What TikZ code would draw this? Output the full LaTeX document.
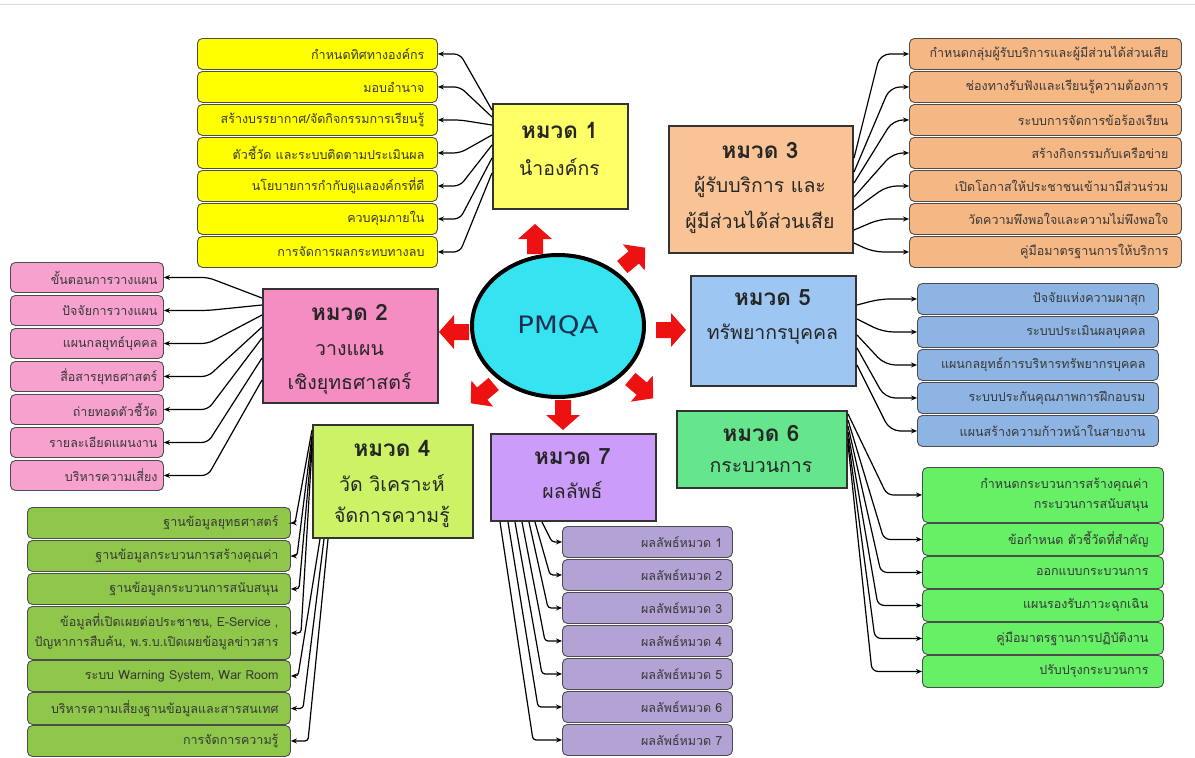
\documentclass[tikz,border=0pt]{standalone}
\usepackage{fontspec}
\setmainfont[Script=Thai]{Loma}
\newfontfamily\pmqafont[FakeStretch=1.15]{DejaVu Sans}
\usetikzlibrary{arrows.meta,shapes.geometric}
\definecolor{yH}{HTML}{FFFF66}
\definecolor{yI}{HTML}{FFFF00}
\definecolor{oH}{HTML}{F9C396}
\definecolor{oI}{HTML}{F5B784}
\definecolor{kH}{HTML}{F58CC2}
\definecolor{kI}{HTML}{F7A1CF}
\definecolor{bH}{HTML}{9EC6F3}
\definecolor{bI}{HTML}{8DB4E2}
\definecolor{gH}{HTML}{66E68C}
\definecolor{gI}{HTML}{66F066}
\definecolor{lH}{HTML}{CCF266}
\definecolor{lI}{HTML}{8FC74A}
\definecolor{vH}{HTML}{CC9CFA}
\definecolor{vI}{HTML}{B2A3D4}
\definecolor{cy}{HTML}{35E4F0}
\definecolor{arrred}{HTML}{EE1111}
% name, fill, x, y, total width, height, margin, text
\newcommand\itm[8]{\node[item, fill=#2, inner xsep=#7pt, minimum height=#6pt] (#1) at (#3,#4)
  {\makebox[\dimexpr #5pt - #7pt - #7pt\relax][r]{#8}};}
\newcommand\twol[2]{\begin{tabular}{@{}r@{}}#1\\#2\end{tabular}}
\begin{document}
\begin{tikzpicture}[x=1pt,y=-1pt,
 item/.style={draw=black!70, line width=0.9pt, rounded corners=5pt, inner ysep=0pt,
   anchor=north west, text=black!78, font=\fontsize{12.5}{20}\selectfont},
 hbox/.style={draw=black!80, line width=2pt, anchor=north west, inner sep=0pt},
 hA/.style={font=\fontsize{22.5}{26}\selectfont\bfseries, text=black!85},
 hB/.style={font=\fontsize{19.5}{23}\selectfont, text=black!85},
 conn/.style={line width=1.2pt, -{Stealth[length=6pt,width=5pt]}, rounded corners=6pt},
 blockarrow/.pic={\fill[arrred] (-14,-8) -- (1,-8) -- (1,-17) -- (16,0) -- (1,17) -- (1,8) -- (-14,8) -- cycle;}
]
\useasboundingbox (0,0) rectangle (1195,758);
\draw[black!15, line width=1pt] (0,4) -- (1195,4);

% ---------- group 1
\itm{a1}{yI}{197}{38}{240}{31}{13}{กำหนดทิศทางองค์กร}
\itm{a2}{yI}{197}{71}{240}{31}{13}{มอบอำนาจ}
\itm{a3}{yI}{197}{104}{240}{31}{13}{สร้างบรรยากาศ/จัดกิจกรรมการเรียนรู้}
\itm{a4}{yI}{197}{137}{240}{31}{13}{ตัวชี้วัด และระบบติดตามประเมินผล}
\itm{a5}{yI}{197}{170}{240}{31}{13}{นโยบายการกำกับดูแลองค์กรที่ดี}
\itm{a6}{yI}{197}{203}{240}{31}{13}{ควบคุมภายใน}
\itm{a7}{yI}{197}{236}{240}{31}{13}{การจัดการผลกระทบทางลบ}
\node[hbox, fill=yH, minimum width=135pt, minimum height=105pt] (h1) at (492,103) {};
\node[hA] (h1a) at (559.5,130) {หมวด 1};
\node[hB] (h1b) at (559.5,167) {นำองค์กร};
\foreach \k/\sy in {1/110,2/117,3/125,4/135,5/145,6/158,7/173}
  \draw[conn] (h1.west |- 0,\sy) -- (a\k.east -| 460,0) -- (a\k.east);

% ---------- group 3
\itm{c1}{oI}{909}{38}{272}{31}{13}{กำหนดกลุ่มผู้รับบริการและผู้มีส่วนได้ส่วนเสีย}
\itm{c2}{oI}{909}{71}{272}{31}{13}{ช่องทางรับฟังและเรียนรู้ความต้องการ}
\itm{c3}{oI}{909}{104}{272}{31}{13}{ระบบการจัดการข้อร้องเรียน}
\itm{c4}{oI}{909}{137}{272}{31}{13}{สร้างกิจกรรมกับเครือข่าย}
\itm{c5}{oI}{909}{170}{272}{31}{13}{เปิดโอกาสให้ประชาชนเข้ามามีส่วนร่วม}
\itm{c6}{oI}{909}{203}{272}{31}{13}{วัดความพึงพอใจและความไม่พึงพอใจ}
\itm{c7}{oI}{909}{236}{272}{31}{13}{คู่มือมาตรฐานการให้บริการ}
\node[hbox, fill=oH, minimum width=184pt, minimum height=127pt] (h3) at (668,125) {};
\node[hA] (h3a) at (760,150) {หมวด 3};
\node[hB] (h3b) at (760,187) {ผู้รับบริการ และ};
\node[hB] (h3c) at (760,222) {ผู้มีส่วนได้ส่วนเสีย};
\foreach \k/\sy/\bx in {1/158/880,2/172/890,3/183/893,4/197/893,5/210/887,6/230/880,7/243/873}
  \draw[conn, rounded corners=10pt] (h3.east |- 0,\sy) -- (c\k.west -| \bx,0) -- (c\k.west);

% ---------- group 2
\itm{b1}{kI}{10}{262}{153}{30}{6}{ขั้นตอนการวางแผน}
\itm{b2}{kI}{10}{295}{153}{30}{6}{ปัจจัยการวางแผน}
\itm{b3}{kI}{10}{328}{153}{30}{6}{แผนกลยุทธ์บุคคล}
\itm{b4}{kI}{10}{361}{153}{30}{6}{สื่อสารยุทธศาสตร์}
\itm{b5}{kI}{10}{394}{153}{30}{6}{ถ่ายทอดตัวชี้วัด}
\itm{b6}{kI}{10}{427}{153}{30}{6}{รายละเอียดแผนงาน}
\itm{b7}{kI}{10}{460}{153}{30}{6}{บริหารความเสี่ยง}
\node[hbox, fill=kH, minimum width=175pt, minimum height=114pt] (h2) at (262,288) {};
\node[hA] (h2a) at (349.5,312) {หมวด 2};
\node[hB] (h2b) at (349.5,350) {วางแผน};
\node[hB] (h2c) at (349.5,383) {เชิงยุทธศาสตร์};
\foreach \k/\sy in {1/298,2/305,3/315,4/327,5/338,6/358,7/380}
  \draw[conn] (h2.west |- 0,\sy) -- (b\k.east -| 208,0) -- (b\k.east);

% ---------- group 5
\itm{e1}{bI}{917}{283}{241}{31}{13}{ปัจจัยแห่งความผาสุก}
\itm{e2}{bI}{917}{316}{241}{31}{13}{ระบบประเมินผลบุคคล}
\itm{e3}{bI}{917}{349}{241}{31}{13}{แผนกลยุทธ์การบริหารทรัพยากรบุคคล}
\itm{e4}{bI}{917}{382}{241}{31}{13}{ระบบประกันคุณภาพการฝึกอบรม}
\itm{e5}{bI}{917}{415}{241}{31}{13}{แผนสร้างความก้าวหน้าในสายงาน}
\node[hbox, fill=bH, minimum width=165pt, minimum height=110pt] (h5) at (690,275) {};
\node[hA] (h5a) at (772.5,298) {หมวด 5};
\node[hB] (h5b) at (772.5,334) {ทรัพยากรบุคคล};
\foreach \k/\sy/\bx in {1/305/880,2/319/883,3/335/885,4/348/885,5/365/890}
  \draw[conn, rounded corners=10pt] (h5.east |- 0,\sy) -- (e\k.west -| \bx,0) -- (e\k.west);

% ---------- group 6
\itm{f1}{gI}{922}{467}{241}{55}{15}{\twol{กำหนดกระบวนการสร้างคุณค่า}{กระบวนการสนับสนุน}}
\itm{f2}{gI}{922}{523}{241}{32}{15}{ข้อกำหนด ตัวชี้วัดที่สำคัญ}
\itm{f3}{gI}{922}{556}{241}{32}{15}{ออกแบบกระบวนการ}
\itm{f4}{gI}{922}{589}{241}{32}{15}{แผนรองรับภาวะฉุกเฉิน}
\itm{f5}{gI}{922}{622}{241}{32}{15}{คู่มือมาตรฐานการปฏิบัติงาน}
\itm{f6}{gI}{922}{655}{241}{32}{15}{ปรับปรุงกระบวนการ}
\node[hbox, fill=gH, minimum width=170pt, minimum height=77pt] (h6) at (676,410) {};
\node[hA] (h6a) at (761,433) {หมวด 6};
\node[hB] (h6b) at (761,467) {กระบวนการ};
\foreach \k/\sy/\bx in {1/414/887,2/420/884,3/426/881,4/432/878,5/438/875,6/444/872}
  \draw[conn] (h6.east |- 0,\sy) -- (f\k.west -| \bx,0) -- (f\k.west);

% ---------- group 4
\itm{d1}{lI}{27}{507}{263}{31}{12}{ฐานข้อมูลยุทธศาสตร์}
\itm{d2}{lI}{27}{540}{263}{31}{12}{ฐานข้อมูลกระบวนการสร้างคุณค่า}
\itm{d3}{lI}{27}{573}{263}{31}{12}{ฐานข้อมูลกระบวนการสนับสนุน}
\itm{d4}{lI}{27}{606}{263}{53}{12}{\twol{ข้อมูลที่เปิดเผยต่อประชาชน, E-Service ,}{ปัญหาการสืบค้น, พ.ร.บ.เปิดเผยข้อมูลข่าวสาร}}
\itm{d5}{lI}{27}{660}{263}{31}{12}{ระบบ Warning System, War Room}
\itm{d6}{lI}{27}{692}{263}{32}{12}{บริหารความเสี่ยงฐานข้อมูลและสารสนเทศ}
\itm{d7}{lI}{27}{725}{263}{31}{12}{การจัดการความรู้}
\node[hbox, fill=lH, minimum width=160pt, minimum height=113pt] (h4) at (312,424) {};
\node[hA] (h4a) at (392,448) {หมวด 4};
\node[hB] (h4b) at (392,483) {วัด วิเคราะห์};
\node[hB] (h4c) at (392,517) {จัดการความรู้};
\foreach \k/\sy/\bx in {1/430/295,2/436/297,3/442/299,4/448/301}
  \draw[conn, rounded corners=3pt] (h4.west |- 0,\sy) -- (d\k.east -| \bx,0) -- (d\k.east);
\foreach \k/\sx/\bx in {5/320/298,6/324/303,7/328/308}
  \draw[conn, rounded corners=3pt] (h4.south -| \sx,0) -- (d\k.east -| \bx,0) -- (d\k.east);

% ---------- group 7
\itm{p1}{vI}{562}{526}{170}{31}{10}{ผลลัพธ์หมวด 1}
\itm{p2}{vI}{562}{559}{170}{31}{10}{ผลลัพธ์หมวด 2}
\itm{p3}{vI}{562}{592}{170}{31}{10}{ผลลัพธ์หมวด 3}
\itm{p4}{vI}{562}{625}{170}{31}{10}{ผลลัพธ์หมวด 4}
\itm{p5}{vI}{562}{658}{170}{31}{10}{ผลลัพธ์หมวด 5}
\itm{p6}{vI}{562}{691}{170}{31}{10}{ผลลัพธ์หมวด 6}
\itm{p7}{vI}{562}{724}{170}{31}{10}{ผลลัพธ์หมวด 7}
\node[hbox, fill=vH, minimum width=165pt, minimum height=87pt] (h7) at (490,433) {};
\node[hA] (h7a) at (572.5,457) {หมวด 7};
\node[hB] (h7b) at (572.5,490) {ผลลัพธ์};
\foreach \k/\sx/\bx in {1/542/552,2/535/550,3/529/548,4/522/545,5/515/542,6/508/538,7/500/533}
  \draw[conn, rounded corners=3pt] (h7.south -| \sx,0) -- (p\k.west -| \bx,0) -- (p\k.west);

% ---------- centre
\node[ellipse, draw=black, line width=4pt, fill=cy, minimum width=172pt, minimum height=142pt,
  font=\pmqafont\fontsize{24}{28}\selectfont, text={rgb,255:red,30;green,45;blue,80}] (pmqa) at (558,326) {PMQA};
\pic[rotate=90]  at (535,240) {blockarrow};
\pic[rotate=40]  at (633,258) {blockarrow};
\pic[rotate=180] at (455,332) {blockarrow};
\pic[rotate=0]   at (670,330) {blockarrow};
\pic[rotate=220] at (483,393) {blockarrow};
\pic[rotate=-90] at (563,414) {blockarrow};
\pic[rotate=-40] at (641,388) {blockarrow};
\end{tikzpicture}
\end{document}
